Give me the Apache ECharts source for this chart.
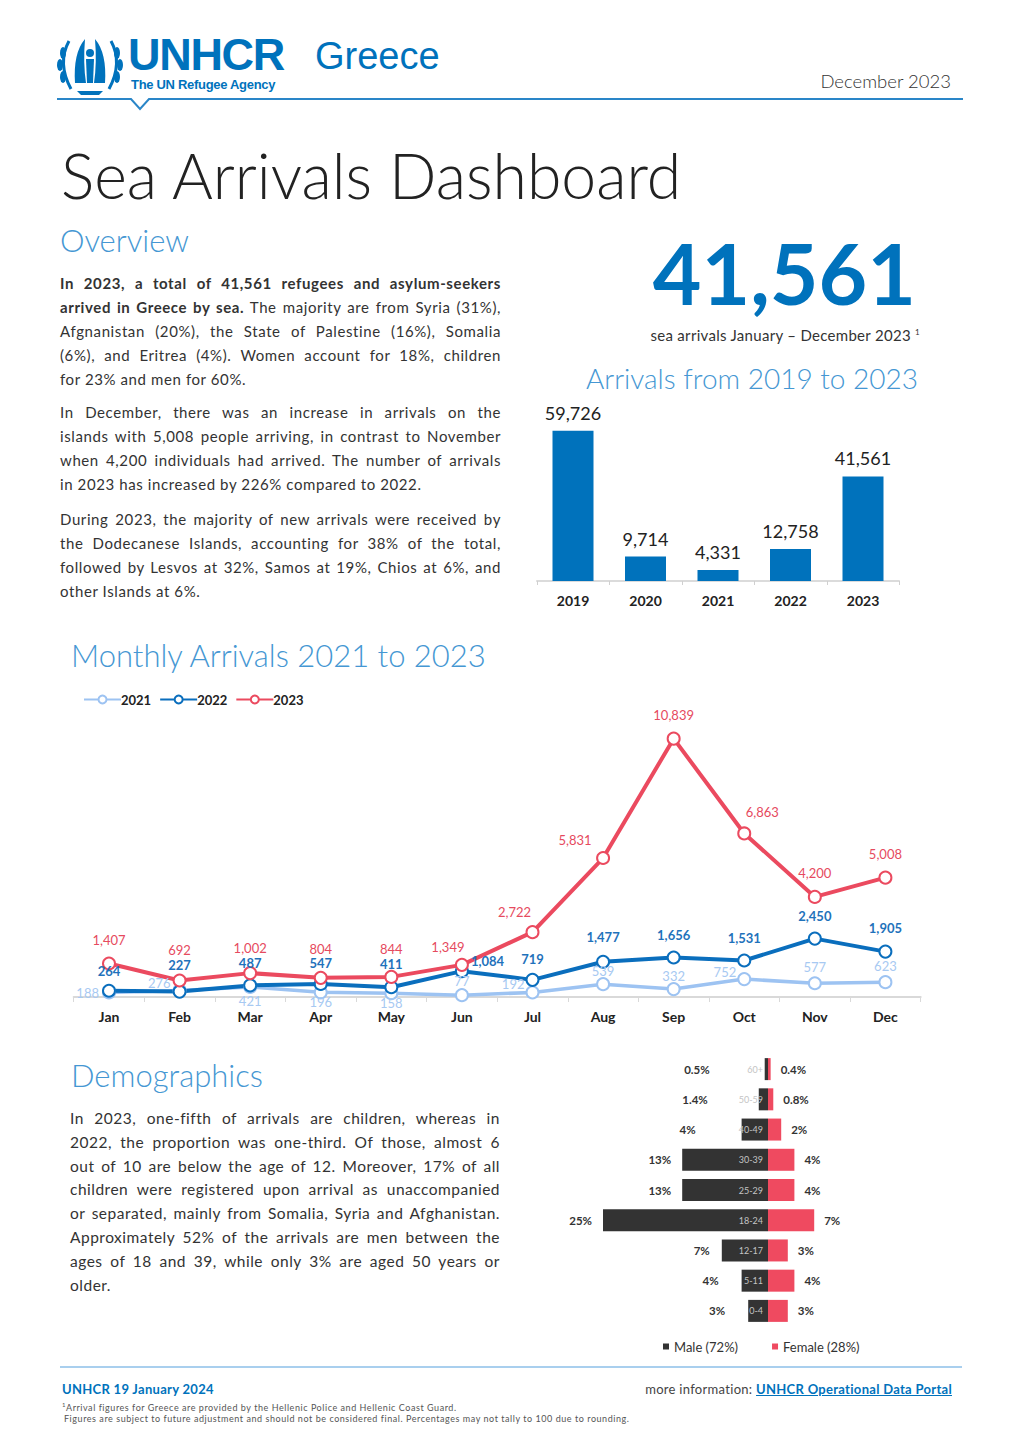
<!DOCTYPE html>
<html>
<head>
<meta charset="utf-8">
<script src="https://cdn.jsdelivr.net/npm/echarts@6/dist/echarts.min.js"></script>
<style>
  html, body { margin:0; padding:0; background:#fff; }
  body { width:1024px; height:1449px; position:relative; overflow:hidden; font-family: Lato, "Open Sans", sans-serif; color:#333; }
  .abs { position:absolute; }
  .h2 { font-weight:300; color:#4597d3; font-size:31px; line-height:36px; white-space:nowrap; }
  .para div { text-align:justify; text-align-last:justify; white-space:nowrap; }
  .para div.last { text-align-last:left; }
  .para { font-size:15px; line-height:24px; color:#333; letter-spacing:0.6px; }
</style>
</head>
<body>
<!-- header -->
<svg class="abs" style="left:55px;top:33px" width="70" height="65" viewBox="0 0 70 65">
  <g fill="none" stroke="#0072BC" stroke-width="3">
    <path d="M14 8 Q2 30 16 56"/>
    <path d="M56 8 Q68 30 54 56"/>
  </g>
  <g fill="#0072BC">
    <ellipse cx="8" cy="20" rx="3" ry="6"/><ellipse cx="5" cy="32" rx="3" ry="6"/><ellipse cx="8" cy="44" rx="3" ry="6"/>
    <ellipse cx="62" cy="20" rx="3" ry="6"/><ellipse cx="65" cy="32" rx="3" ry="6"/><ellipse cx="62" cy="44" rx="3" ry="6"/>
    <path d="M20 50 Q18 20 30 6 Q28 30 31 50 Z"/>
    <path d="M50 50 Q52 20 40 6 Q42 30 39 50 Z"/>
    <circle cx="35" cy="20" r="4"/>
    <path d="M31 26 L39 26 L38 50 L32 50 Z"/>
    <path d="M22 58 L48 58 L44 62 L26 62 Z"/>
  </g>
</svg>
<div class="abs" style="left:128px;top:35px;font-family:'Liberation Sans',Arial,sans-serif;font-weight:bold;font-size:45px;letter-spacing:-1.3px;color:#0072BC;line-height:40px;">UNHCR</div>
<div class="abs" style="left:131px;top:78px;font-family:'Liberation Sans Narrow','Liberation Sans',sans-serif;font-weight:bold;font-size:13px;letter-spacing:-0.3px;color:#0072BC;line-height:14px;">The UN Refugee Agency</div>
<div class="abs" style="left:315px;top:33px;font-family:'Liberation Sans',Arial,sans-serif;font-size:38px;color:#0072BC;line-height:46px;">Greece</div>
<div class="abs" style="left:780px;top:69px;width:171px;text-align:right;font-size:18.5px;font-weight:300;color:#333;line-height:24px;white-space:nowrap;">December 2023</div>
<svg class="abs" style="left:0;top:96px" width="1024" height="20">
  <polyline points="57,3 131,3 140,13 149,3 963,3" fill="none" stroke="#2a86c8" stroke-width="2"/>
</svg>

<div class="abs" style="left:61px;top:137px;font-size:62.5px;font-weight:300;color:#222;line-height:76px;white-space:nowrap;">Sea Arrivals Dashboard</div>

<div class="abs h2" style="left:60px;top:222px;">Overview</div>
<div class="abs para" style="left:60px;top:271px;width:441px;">
  <div><b>In 2023, a total of 41,561 refugees and asylum-seekers</b></div>
  <div><b>arrived in Greece by sea.</b> The majority are from Syria (31%),</div>
  <div>Afgnanistan (20%), the State of Palestine (16%), Somalia</div>
  <div>(6%), and Eritrea (4%). Women account for 18%, children</div>
  <div class="last">for 23% and men for 60%.</div>
</div>
<div class="abs para" style="left:60px;top:400px;width:441px;">
  <div>In December, there was an increase in arrivals on the</div>
  <div>islands with 5,008 people arriving, in contrast to November</div>
  <div>when 4,200 individuals had arrived. The number of arrivals</div>
  <div class="last">in 2023 has increased by 226% compared to 2022.</div>
</div>
<div class="abs para" style="left:60px;top:507px;width:441px;">
  <div>During 2023, the majority of new arrivals were received by</div>
  <div>the Dodecanese Islands, accounting for 38% of the total,</div>
  <div>followed by Lesvos at 32%, Samos at 19%, Chios at 6%, and</div>
  <div class="last">other Islands at 6%.</div>
</div>

<div class="abs" style="left:600px;top:225px;width:316px;text-align:right;font-size:84px;font-weight:bold;color:#0072BC;line-height:96px;">41,561</div>
<div class="abs" style="left:540px;top:323px;width:380px;text-align:right;font-size:15px;letter-spacing:0.3px;color:#333;line-height:18px;white-space:nowrap;">sea arrivals January – December 2023 <sup style="font-size:8px">1</sup></div>
<div class="abs h2" style="left:540px;top:360px;width:378px;text-align:right;font-size:28px;">Arrivals from 2019 to 2023</div>

<div id="bar" class="abs" style="left:520px;top:390px;width:420px;height:240px;"></div>

<div class="abs h2" style="left:71px;top:637px;">Monthly Arrivals 2021 to 2023</div>
<div id="line" class="abs" style="left:40px;top:680px;width:944px;height:360px;"></div>

<div class="abs h2" style="left:71px;top:1057px;">Demographics</div>
<div class="abs para" style="left:70px;top:1107px;width:430px;font-size:15.5px;line-height:23.8px;letter-spacing:0.5px;">
  <div>In 2023, one-fifth of arrivals are children, whereas in</div>
  <div>2022, the proportion was one-third. Of those, almost 6</div>
  <div>out of 10 are below the age of 12. Moreover, 17% of all</div>
  <div>children were registered upon arrival as unaccompanied</div>
  <div>or separated, mainly from Somalia, Syria and Afghanistan.</div>
  <div>Approximately 52% of the arrivals are men between the</div>
  <div>ages of 18 and 39, while only 3% are aged 50 years or</div>
  <div class="last">older.</div>
</div>
<div id="pyr" class="abs" style="left:560px;top:1040px;width:420px;height:320px;"></div>

<!-- footer -->
<div class="abs" style="left:60px;top:1366px;width:902px;height:2px;background:#a9cfee;"></div>
<div class="abs" style="left:62px;top:1381px;font-size:13px;letter-spacing:0.3px;font-weight:bold;color:#0072BC;line-height:16px;white-space:nowrap;">UNHCR 19 January 2024</div>
<div class="abs" style="left:540px;top:1381px;width:412px;text-align:right;font-size:13px;letter-spacing:0.3px;color:#444;line-height:16px;white-space:nowrap;">more information: <span style="color:#0072BC;font-weight:bold;text-decoration:underline;">UNHCR Operational Data Portal</span></div>
<div class="abs" style="left:62px;top:1399px;font-size:9px;letter-spacing:0.55px;color:#555;line-height:12px;white-space:nowrap;"><sup style="font-size:6px">1</sup>Arrival figures for Greece are provided by the Hellenic Police and Hellenic Coast Guard.</div>
<div class="abs" style="left:64px;top:1413px;font-size:9px;letter-spacing:0.55px;color:#555;line-height:12px;white-space:nowrap;">Figures are subject to future adjustment and should not be considered final. Percentages may not tally to 100 due to rounding.</div>

<script>
// ---------- data ----------
const years = ['2019', '2020', '2021', '2022', '2023'];
const yearlyArrivals = [59726, 9714, 4331, 12758, 41561];

const months = ['Jan', 'Feb', 'Mar', 'Apr', 'May', 'Jun', 'Jul', 'Aug', 'Sep', 'Oct', 'Nov', 'Dec'];
const arrivals2021 = [188, 276, 421, 196, 158, 77, 192, 539, 332, 752, 577, 623];
const arrivals2022 = [264, 227, 487, 547, 411, 1084, 719, 1477, 1656, 1531, 2450, 1905];
const arrivals2023 = [1407, 692, 1002, 804, 844, 1349, 2722, 5831, 10839, 6863, 4200, 5008];

const ageGroups = ['0-4', '5-11', '12-17', '18-24', '25-29', '30-39', '40-49', '50-59', '60+'];
const malePct = [3, 4, 7, 25, 13, 13, 4, 1.4, 0.5];
const femalePct = [3, 4, 3, 7, 4, 4, 2, 0.8, 0.4];
const maleLegend = 'Male (72%)';
const femaleLegend = 'Female (28%)';

// ---------- styles ----------
const FONT = 'Lato, "Open Sans", sans-serif';
const C21 = '#9DC3F2', C22 = '#0A6EBD', C23 = '#EB4A5F';
const fmt = v => Number(v).toLocaleString('en-US');

// ---------- bar chart ----------
const bar = echarts.init(document.getElementById('bar'), null, {renderer: 'svg'});
bar.setOption({
  animation: false,
  textStyle: {fontFamily: FONT},
  grid: {left: 16.75, top: 40, width: 362.5, height: 151},
  xAxis: {
    type: 'category', data: years,
    axisLine: {lineStyle: {color: '#d0d0d0', width: 1.5}},
    axisTick: {show: true, length: 4, lineStyle: {color: '#d0d0d0'}},
    axisLabel: {fontSize: 14, fontWeight: 'bold', color: '#222', margin: 12, fontFamily: FONT}
  },
  yAxis: {type: 'value', min: 0, max: 60000, show: false, splitLine: {show: false}},
  series: [{
    type: 'bar', data: yearlyArrivals, barWidth: 41,
    itemStyle: {color: '#0072BC'},
    label: {show: true, position: 'top', distance: 9, fontSize: 18, color: '#222', fontFamily: FONT, formatter: p => fmt(p.value)}
  }]
});

// ---------- line chart (label placement) ----------
const pos21 = [
  {position: 'left', distance: 3},
  {position: 'left', distance: 2, offset: [0, -7]},
  {position: 'bottom', distance: 1},
  {position: 'bottom', distance: 0, offset: [0, -4]},
  {position: 'bottom', distance: 0, offset: [0, -4]},
  {position: 'top', distance: 1},
  {position: 'left', distance: 1, offset: [0, -8]},
  {position: 'top', distance: 0},
  {position: 'top', distance: 0},
  {position: 'left', distance: 1, offset: [0, -7]},
  {position: 'top', distance: 3},
  {position: 'top', distance: 3}
];
const dist22 = [6, 13, 9, 7, 10, 0, 7, 11, 9, 9, 9, 10];
const pos22 = dist22.map((d, i) => i === 5 ? {position: 'right', distance: 2, offset: [0, -10]} : {position: 'top', distance: d});
const dist23 = [10, 17, 12, 15, 14, 4, 7, 5, 10, 8, 10, 10];
const off23 = [[0,0],[0,0],[0,0],[0,0],[0,0],[-14,0],[-18,0],[-28,0],[0,0],[18,0],[0,0],[0,0]];
const pos23 = dist23.map((d, i) => ({position: 'top', distance: d, offset: off23[i]}));

function mkSeries(name, values, color, width, labelColor, labelWeight, posArr) {
  return {
    name, type: 'line', data: values.map((v, i) => ({value: v, label: posArr[i]})),
    symbol: 'emptyCircle', symbolSize: 12,
    lineStyle: {color, width},
    itemStyle: {color, borderWidth: 2},
    label: {show: true, fontSize: 13, color: labelColor, fontWeight: labelWeight, fontFamily: FONT, formatter: p => fmt(p.value)}
  };
}
const line = echarts.init(document.getElementById('line'), null, {renderer: 'svg'});
line.setOption({
  animation: false,
  textStyle: {fontFamily: FONT},
  legend: {
    left: 38, top: 8, itemWidth: 37, itemHeight: 10, itemGap: 8,
    textStyle: {fontSize: 13, fontWeight: 'bold', color: '#222', fontFamily: FONT, padding: [0, 0, 0, -5]},
    data: ['2021', '2022', '2023']
  },
  grid: {left: 33.7, top: 31, width: 847, height: 286},
  xAxis: {
    type: 'category', data: months,
    axisLine: {lineStyle: {color: '#d9d9d9', width: 2}},
    axisTick: {show: true, length: 5, lineStyle: {color: '#d9d9d9'}},
    axisLabel: {fontSize: 14, fontWeight: 'bold', color: '#222', margin: 12, fontFamily: FONT}
  },
  yAxis: {type: 'value', min: 0, max: 12000, show: false, splitLine: {show: false}},
  series: [
    mkSeries('2021', arrivals2021, C21, 3.5, '#a7c9f2', 'normal', pos21),
    mkSeries('2022', arrivals2022, C22, 4, '#1f72bb', 'bold', pos22),
    mkSeries('2023', arrivals2023, C23, 4, '#e64a5e', 'normal', pos23)
  ]
});

// ---------- pyramid ----------
const pyr = echarts.init(document.getElementById('pyr'), null, {renderer: 'svg'});
const maleNeg = malePct.map(v => -v);
const maleLabelDist = [23, 23, 12, 11, 11, 11, 46, 51, 55];
pyr.setOption({
  animation: false,
  textStyle: {fontFamily: FONT},
  legend: {
    top: 295, left: 98, itemWidth: 6, itemHeight: 6, itemGap: 34, icon: 'rect',
    textStyle: {fontSize: 13, color: '#333', fontFamily: FONT},
    data: [maleLegend, femaleLegend]
  },
  grid: {left: 43, top: 14, width: 330, height: 272},
  xAxis: {type: 'value', min: -25, max: 25, show: false},
  yAxis: {type: 'category', data: ageGroups, show: false},
  series: [
    {
      name: maleLegend, type: 'bar', data: maleNeg, barWidth: 22, barGap: '-100%',
      itemStyle: {color: '#333333'},
      label: {show: true, position: 'insideRight', distance: 5, fontSize: 9, color: '#c4c4c4', fontFamily: FONT,
        formatter: p => ageGroups[p.dataIndex]}
    },
    {
      name: 'maleLabels', type: 'bar', barWidth: 22, barGap: '-100%',
      data: maleNeg.map((v, i) => ({value: v, label: {distance: maleLabelDist[i]}})),
      itemStyle: {color: 'rgba(0,0,0,0)'}, silent: true,
      label: {show: true, position: 'left', fontSize: 11.5, fontWeight: 'bold', color: '#333', fontFamily: FONT,
        formatter: p => Math.abs(p.value) + '%'}
    },
    {
      name: femaleLegend, type: 'bar', data: femalePct, barWidth: 22, barGap: '-100%',
      itemStyle: {color: '#EF4A60'},
      label: {show: true, position: 'right', distance: 10, fontSize: 11.5, fontWeight: 'bold', color: '#333', fontFamily: FONT,
        formatter: p => p.value + '%'}
    }
  ]
});
</script>
</body>
</html>
